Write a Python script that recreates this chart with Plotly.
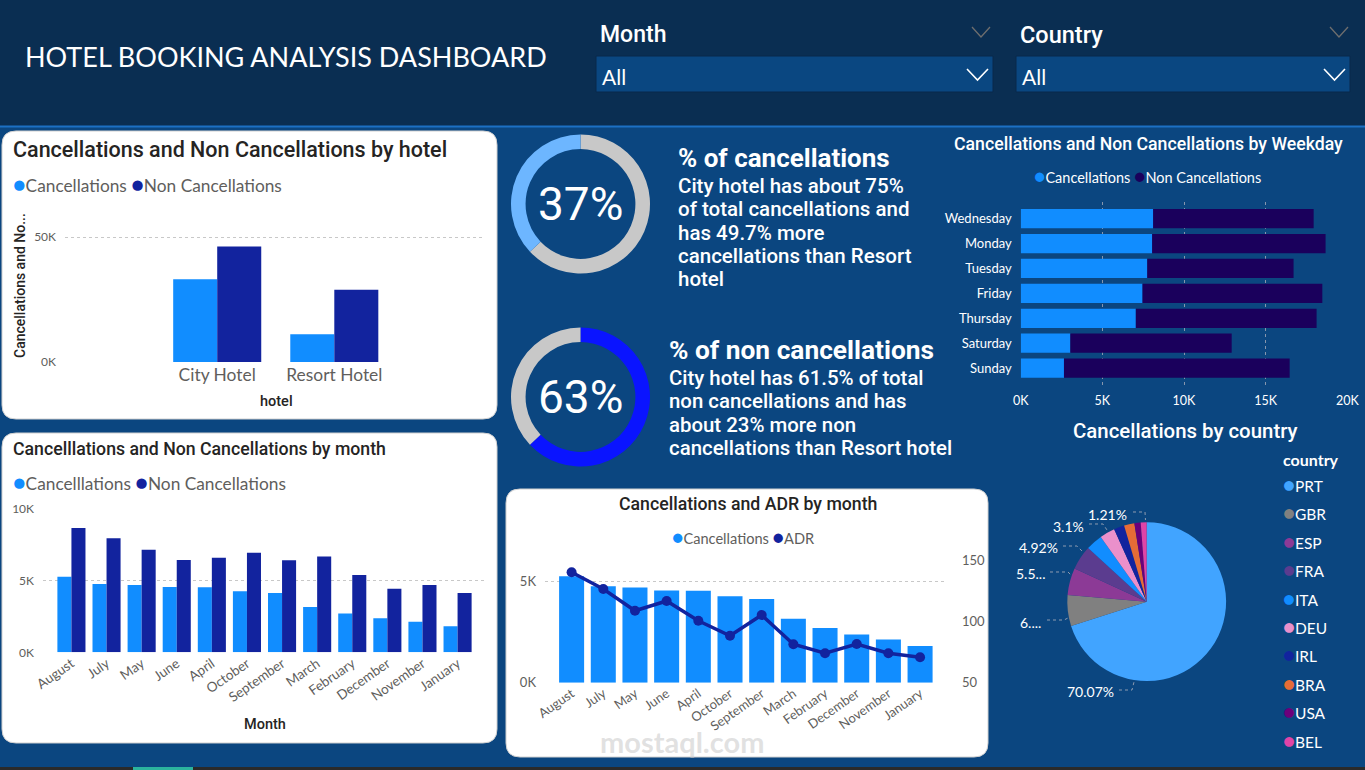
import plotly.graph_objects as go

# ---------------- data ----------------
hotels = ["City Hotel", "Resort Hotel"]
hotel_cancel = [33102, 11122]
hotel_non = [46228, 28938]

months = ["August", "July", "May", "June", "April", "October", "September",
          "March", "February", "December", "November", "January"]
month_cancel = [5239, 4742, 4677, 4535, 4524, 4246, 4116, 3149, 2696, 2371, 2122, 1807]
month_non = [8638, 7919, 7114, 6404, 6565, 6914, 6392, 6645, 5372, 4409, 4672, 4115]
month_adr = [140.5, 126.8, 109.0, 117.0, 100.8, 88.5, 105.5, 81.5, 74.1, 81.7, 74.1, 70.8]

weekdays = ["Wednesday", "Monday", "Tuesday", "Friday", "Thursday", "Saturday", "Sunday"]
wd_cancel = [8110, 8050, 7750, 7460, 7050, 3040, 2650]
wd_non = [9830, 10620, 8960, 11010, 11070, 9880, 13820]

countries = ["PRT", "GBR", "ESP", "FRA", "ITA", "DEU", "IRL", "BRA", "USA", "BEL"]
country_cancel = [27519, 2453, 2177, 1934, 1333, 1218, 832, 830, 501, 474]
country_labels = ["70.07%", "6....", "5.5...", "4.92%", "", "3.1%", "", "", "", "1.21%"]
country_colors = ["#41A4FF", "#808080", "#8C3A96", "#5B3C8F", "#118DFF",
                  "#EA90CB", "#12239E", "#E66C37", "#6B007B", "#E044A7"]

total_cancel = 44224
total_non = 75166

kpi1_lines = ["City hotel has about 75%", "of total cancellations and", "has 49.7% more",
              "cancellations than Resort", "hotel"]
kpi2_lines = ["City hotel has 61.5% of total", "non cancellations and has",
              "about 23% more non", "cancellations than Resort hotel"]

# layout of the pie's data labels (text right edge, text y, leader-line points) in px
pie_label_layout = {
    "PRT": dict(x=1116, y=691, line=[(1119, 690), (1132, 690), (1134, 682)]),
    "GBR": dict(x=1043, y=622, line=[(1047, 620), (1064, 620), (1070, 617)]),
    "ESP": dict(x=1047, y=573, line=[(1050, 572), (1068, 572), (1072, 576)]),
    "FRA": dict(x=1060, y=547, line=[(1063, 546), (1077, 546), (1083, 552)]),
    "DEU": dict(x=1086, y=526, line=[(1089, 524), (1103, 524), (1107, 530)]),
    "BEL": dict(x=1129, y=514, line=[(1133, 512), (1145, 512), (1145.5, 520)]),
}

# ---------------- styling helpers ----------------
W, H = 1365, 770
BG = "#0B4680"
HEADER = "#0A2E52"
C_CAN = "#118DFF"
C_NON = "#12239E"
C_WNON = "#1A005C"
TXT_DARK = "#252423"
TXT_GRAY = "#605E5C"
DIN = "Roboto"
SEG = "Lato"


def X(p):
    return p / W


def Y(p):
    return 1 - p / H


def rrect(x0, y0, x1, y1, r):
    pts = [
        ("M", [(x0 + r, y0)]), ("L", [(x1 - r, y0)]), ("Q", [(x1, y0), (x1, y0 + r)]),
        ("L", [(x1, y1 - r)]), ("Q", [(x1, y1), (x1 - r, y1)]),
        ("L", [(x0 + r, y1)]), ("Q", [(x0, y1), (x0, y1 - r)]),
        ("L", [(x0, y0 + r)]), ("Q", [(x0, y0), (x0 + r, y0)]),
    ]
    s = ""
    for cmd, coords in pts:
        s += cmd + " " + " ".join(f"{X(a):.6f},{Y(b):.6f}" for a, b in coords) + " "
    return s + "Z"


def polyline(points):
    return "M " + " L ".join(f"{X(a):.6f},{Y(b):.6f}" for a, b in points)


annotations = []


def ann(text, x, y, size, color, xanchor="left", yanchor="middle", family=SEG,
        weight="normal", angle=0):
    annotations.append(dict(
        text=text, x=X(x), y=Y(y), xref="paper", yref="paper", showarrow=False,
        xanchor=xanchor, yanchor=yanchor, textangle=angle, align="left",
        font=dict(size=size, color=color, family=family, weight=weight)))


def dot(color, size):
    return f'<span style="color:{color};font-size:{size}px">●</span>'


def legend_text(names, colors, dsize, sep="&nbsp;"):
    return sep.join(f"{dot(c, dsize)}{n}" for n, c in zip(names, colors))


fig = go.Figure()

# ---------------- hotel chart (x / y) ----------------
fig.add_trace(go.Bar(x=hotels, y=hotel_cancel, name="Cancellations", marker_color=C_CAN,
                     width=0.376, offset=-0.376, xaxis="x", yaxis="y", marker_line_width=0))
fig.add_trace(go.Bar(x=hotels, y=hotel_non, name="Non Cancellations", marker_color=C_NON,
                     width=0.376, offset=0, xaxis="x", yaxis="y", marker_line_width=0))

# ---------------- month chart (x2 / y2) ----------------
fig.add_trace(go.Bar(x=months, y=month_cancel, name="Cancelllations", marker_color=C_CAN,
                     width=0.4, offset=-0.4, xaxis="x2", yaxis="y2", marker_line_width=0))
fig.add_trace(go.Bar(x=months, y=month_non, name="Non Cancellations", marker_color=C_NON,
                     width=0.4, offset=0, xaxis="x2", yaxis="y2", marker_line_width=0))

# ---------------- weekday chart (x3 / y3) ----------------
fig.add_trace(go.Bar(y=weekdays, x=wd_cancel, orientation="h", name="Cancellations",
                     marker_color=C_CAN, width=0.775, offset=-0.3875,
                     xaxis="x3", yaxis="y3", marker_line_width=0))
fig.add_trace(go.Bar(y=weekdays, x=wd_non, base=wd_cancel, orientation="h",
                     name="Non Cancellations", marker_color=C_WNON, width=0.775,
                     offset=-0.3875, xaxis="x3", yaxis="y3", marker_line_width=0))

# ---------------- ADR chart (x4 / y4 / y5) ----------------
fig.add_trace(go.Bar(x=months, y=month_cancel, name="Cancellations", marker_color=C_CAN,
                     width=0.79, offset=-0.395, xaxis="x4", yaxis="y4", marker_line_width=0))
fig.add_trace(go.Scatter(x=months, y=month_adr, name="ADR", mode="lines+markers",
                         line=dict(color=C_NON, width=3.5), marker=dict(size=10, color=C_NON),
                         xaxis="x4", yaxis="y5"))

# ---------------- donuts ----------------
r1 = 69.5
cx, cy1, cy2 = 580.5, 204, 397
fig.add_trace(go.Pie(values=[total_non, total_cancel], labels=["Non Cancellations", "Cancellations"],
                     hole=0.79, sort=False, direction="clockwise", rotation=0,
                     marker=dict(colors=["#C8C8C8", "#6DB6FF"], line=dict(width=0)),
                     textinfo="none", hoverinfo="label+percent",
                     domain=dict(x=[X(cx - r1), X(cx + r1)], y=[Y(cy1 + r1), Y(cy1 - r1)])))
fig.add_trace(go.Pie(values=[total_non, total_cancel], labels=["Non Cancellations", "Cancellations"],
                     hole=0.79, sort=False, direction="clockwise", rotation=0,
                     marker=dict(colors=["#0A14FF", "#C8C8C8"], line=dict(width=0)),
                     textinfo="none", hoverinfo="label+percent",
                     domain=dict(x=[X(cx - r1), X(cx + r1)], y=[Y(cy2 + r1), Y(cy2 - r1)])))

# ---------------- country pie ----------------
pcx, pcy, pr = 1146.7, 601.7, 79.4
fig.add_trace(go.Pie(values=country_cancel, labels=countries, textinfo="none",
                     sort=False, direction="clockwise", rotation=0,
                     marker=dict(colors=country_colors, line=dict(width=0)),
                     domain=dict(x=[X(pcx - pr), X(pcx + pr)], y=[Y(pcy + pr), Y(pcy - pr)])))

# ---------------- shapes ----------------
shapes = [
    dict(type="rect", xref="paper", yref="paper", x0=0, x1=1, y0=Y(126), y1=1,
         fillcolor=HEADER, line_width=0, layer="below"),
    dict(type="line", xref="paper", yref="paper", x0=0, x1=1, y0=Y(126.5), y1=Y(126.5),
         line=dict(color="#1C70C4", width=2), layer="below"),
    # slicer boxes
    dict(type="rect", xref="paper", yref="paper", x0=X(596), x1=X(993), y0=Y(92), y1=Y(56),
         fillcolor="#0A4781", line=dict(color="#08284A", width=1), layer="below"),
    dict(type="rect", xref="paper", yref="paper", x0=X(1016), x1=X(1350), y0=Y(92), y1=Y(56),
         fillcolor="#0A4781", line=dict(color="#08284A", width=1), layer="below"),
    # chevrons
    dict(type="path", xref="paper", yref="paper", path=polyline([(967, 69), (977.5, 80), (988, 69)]),
         line=dict(color="white", width=1.6)),
    dict(type="path", xref="paper", yref="paper", path=polyline([(1324, 69), (1334.5, 80), (1345, 69)]),
         line=dict(color="white", width=1.6)),
    dict(type="path", xref="paper", yref="paper", path=polyline([(972, 27), (981, 37), (990, 27)]),
         line=dict(color="#6E6E6E", width=1.3)),
    dict(type="path", xref="paper", yref="paper", path=polyline([(1330, 27), (1339, 37), (1348, 27)]),
         line=dict(color="#6E6E6E", width=1.3)),
    # white panels
    dict(type="path", xref="paper", yref="paper", path=rrect(2, 131, 497, 419, 14),
         fillcolor="white", line=dict(color="#D0D0D0", width=1), layer="below"),
    dict(type="path", xref="paper", yref="paper", path=rrect(2, 433, 497, 743, 14),
         fillcolor="white", line=dict(color="#D0D0D0", width=1), layer="below"),
    dict(type="path", xref="paper", yref="paper", path=rrect(506, 489, 988, 757, 14),
         fillcolor="white", line=dict(color="#D0D0D0", width=1), layer="below"),
    # bottom strip
    dict(type="rect", xref="paper", yref="paper", x0=0, x1=1, y0=0, y1=Y(767),
         fillcolor="#2A2A2A", line_width=0),
    dict(type="rect", xref="paper", yref="paper", x0=X(133), x1=X(193), y0=0, y1=Y(767),
         fillcolor="#2BB39E", line_width=0),
]

# pie data labels with leader lines
for c, lbl in zip(countries, country_labels):
    if lbl and c in pie_label_layout:
        p = pie_label_layout[c]
        shapes.append(dict(type="path", xref="paper", yref="paper", path=polyline(p["line"]),
                           line=dict(color="#8E9BB0", width=1, dash="dot")))

# ---------------- texts ----------------
ann("HOTEL BOOKING ANALYSIS DASHBOARD", 23, 57, 27, "white", family=SEG)
ann("Month", 598, 35, 23, "white", family=DIN, weight=500)
ann("Country", 1018, 35, 23.5, "white", family=DIN, weight=500)
ann("All", 600, 76, 21, "white")
ann("All", 1020, 76, 21, "white")

# hotel chart
ann("Cancellations and Non Cancellations by hotel", 11, 150, 21.5, TXT_DARK, family=DIN, weight=500)
ann(legend_text(["Cancellations", "Non Cancellations"], [C_CAN, C_NON], 21), 11, 184, 17.3, TXT_GRAY)
ann("Cancellations and No...", 20, 286, 14, TXT_DARK, xanchor="center", angle=-90, family=DIN, weight=500)
ann("hotel", 276, 401, 14.5, TXT_DARK, xanchor="center", family=DIN, weight=500)

# month chart
ann("Cancelllations and Non Cancellations by month", 11, 449, 17.7, TXT_DARK, family=DIN, weight=500)
ann(legend_text(["Cancelllations", "Non Cancellations"], [C_CAN, C_NON], 21), 11, 481, 17.3, TXT_GRAY)
ann("Month", 265, 724, 14.5, TXT_DARK, xanchor="center", family=DIN, weight=500)

# KPI
pct_c = round(100 * total_cancel / (total_cancel + total_non))
pct_n = round(100 * total_non / (total_cancel + total_non))
ann(f"{pct_c}%", cx, cy1, 46, "white", xanchor="center", family=DIN)
ann(f"{pct_n}%", cx, cy2, 46, "white", xanchor="center", family=DIN)
ann("% of cancellations", 676, 158, 26, "white", family=DIN, weight="bold")
for i, line in enumerate(kpi1_lines):
    ann(line, 676, 186 + i * 23.3, 20.5, "white", family=DIN, weight=500)
ann("% of non cancellations", 667, 350, 26.3, "white", family=DIN, weight="bold")
for i, line in enumerate(kpi2_lines):
    ann(line, 667, 378 + i * 23.3, 20.4, "white", family=DIN, weight=500)

# weekday chart
ann("Cancellations and Non Cancellations by Weekday", 1148, 144, 17.7, "white",
    xanchor="center", family=DIN, weight=500)
ann(legend_text(["Cancellations", "Non Cancellations"], [C_CAN, C_WNON], 19), 1147, 176, 14.5,
    "white", xanchor="center")

# ADR chart
ann("Cancellations and ADR by month", 748, 504, 17.7, TXT_DARK, xanchor="center", family=DIN, weight=500)
ann(legend_text(["Cancellations", "ADR"], [C_CAN, C_NON], 19), 744, 536, 14.6, TXT_GRAY, xanchor="center")
ann("mostaql.com", 682, 741, 29, "rgba(200,200,200,0.55)", xanchor="center", family=SEG, weight="bold")

# pie
ann("Cancellations by country", 1185, 431, 20.4, "white", xanchor="center", family=DIN, weight=500)
for c, lbl in zip(countries, country_labels):
    if lbl and c in pie_label_layout:
        p = pie_label_layout[c]
        ann(lbl, p["x"], p["y"], 14, "white", xanchor="right")
ann("country", 1281, 459, 16, "white", family=SEG, weight="bold")
for i, (c, col) in enumerate(zip(countries, country_colors)):
    ann(f"{dot(col, 20)}{c}", 1281, 484 + i * 28.4, 15.5, "white")

# ---------------- axes ----------------
grid_light = dict(showgrid=True, gridcolor="#C8C8C8", griddash="dot", gridwidth=1, zeroline=False)
noam = dict(automargin=False)

fig.update_layout(
    width=W, height=H, autosize=False,
    margin=dict(l=0, r=0, t=0, b=0, pad=0, autoexpand=False),
    paper_bgcolor=BG, plot_bgcolor="rgba(0,0,0,0)",
    barmode="overlay", showlegend=False,
    shapes=shapes, annotations=annotations,
    font=dict(family=SEG),
    # hotel
    xaxis=dict(domain=[X(65), X(483)], anchor="y", range=[-1.30, 2.27], showgrid=False,
               zeroline=False, showline=False, ticks="",
               tickfont=dict(size=17.4, color=TXT_GRAY, family=SEG), ticklabelstandoff=1, **noam),
    yaxis=dict(domain=[Y(362), Y(220)], anchor="x", range=[0, 50000 * 142 / 125],
               tickvals=[0, 50000], ticktext=["0K", "50K"],
               tickfont=dict(size=12, color=TXT_GRAY, family=SEG), ticklabelstandoff=8,
               **grid_light, **noam),
    # month
    xaxis2=dict(domain=[X(43), X(486)], anchor="y2", range=[-0.81, 11.81], showgrid=False,
                zeroline=False, showline=False, ticks="", tickangle=-35,
                tickfont=dict(size=13.5, color=TXT_GRAY, family=SEG), ticklabelstandoff=0, **noam),
    yaxis2=dict(domain=[Y(652.3), Y(508.3)], anchor="x2", range=[0, 10000],
                tickvals=[0, 5000, 10000], ticktext=["0K", "5K", "10K"],
                tickfont=dict(size=12, color=TXT_GRAY, family=SEG), ticklabelstandoff=8,
                **grid_light, **noam),
    # weekday
    xaxis3=dict(domain=[X(1020.7), X(1347.3)], anchor="y3", range=[0, 20000],
                tickvals=[0, 5000, 10000, 15000, 20000], ticktext=["0K", "5K", "10K", "15K", "20K"],
                tickfont=dict(size=12.5, color="white", family=SEG), ticklabelstandoff=4,
                showgrid=True, gridcolor="#8796AD", griddash="dot", zeroline=False, showline=False,
                **noam),
    yaxis3=dict(domain=[Y(387.3), Y(201.7)], anchor="x3", range=[6.77, -0.68],
                categoryorder="array", categoryarray=weekdays, showgrid=False, zeroline=False,
                tickfont=dict(size=13, color="white", family=SEG), ticklabelstandoff=8, ticks="",
                **noam),
    # ADR
    xaxis4=dict(domain=[X(545), X(947)], anchor="y4", range=[-0.84, 11.85], showgrid=False,
                zeroline=False, showline=False, ticks="", tickangle=-35,
                tickfont=dict(size=13, color=TXT_GRAY, family=SEG), ticklabelstandoff=0, **noam),
    yaxis4=dict(domain=[Y(682.7), Y(560.7)], anchor="x4", range=[0, 6000],
                tickvals=[0, 5000], ticktext=["0K", "5K"],
                tickfont=dict(size=13, color=TXT_GRAY, family=SEG), ticklabelstandoff=8,
                **grid_light, **noam),
    yaxis5=dict(domain=[Y(682.7), Y(560.7)], anchor="x4", overlaying="y4", side="right",
                range=[50, 150], tickvals=[50, 100, 150], showgrid=False, zeroline=False,
                tickfont=dict(size=13, color=TXT_GRAY, family=SEG), ticklabelstandoff=14, **noam),
)

fig.write_html(
    "out.html",
    post_script="document.body.style.margin='0';document.body.style.padding='0';"
                "document.body.style.overflow='hidden';",
)
